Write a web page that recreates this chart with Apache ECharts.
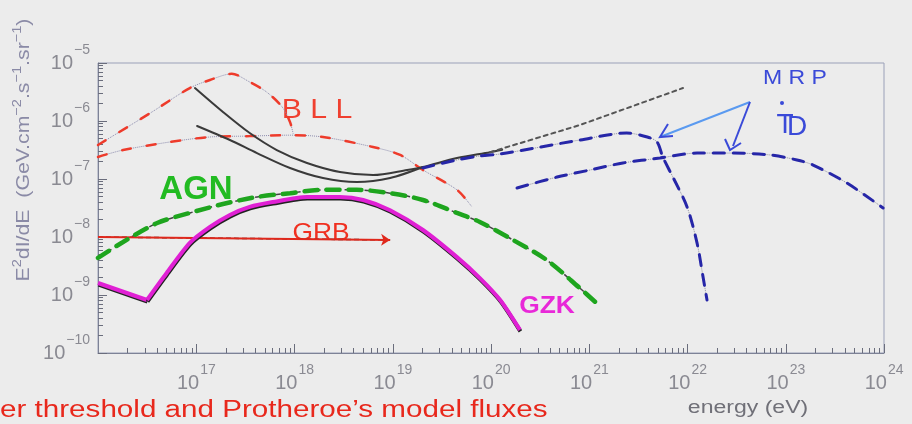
<!DOCTYPE html>
<html><head><meta charset="utf-8">
<script src="https://cdn.jsdelivr.net/npm/echarts@6/dist/echarts.min.js"></script>
<style>html,body{margin:0;padding:0;background:#ececec}#c{width:912px;height:424px}</style>
</head><body><div id="c"></div>
<script>
// ---- axis ranges (decade exponents) ----
const xExponents = [16, 24];
const yExponents = [-10, -5];
// ---- curves: [energy (eV), E^2 dI/dE] ----
const bllUpper = [[1e16,3.86e-7],[3.4e16,1.37e-6],[8.6e16,3.7e-6],[1.38e17,5.1e-6],[2.3e17,6.5e-6],[3.5e17,4.7e-6],[5.2e17,3.16e-6],[7.5e17,1.74e-6],[9e17,9.6e-7],[9.7e17,6e-7]];
const bllLower = [[1e16,2.4e-7],[1.8e16,3.16e-7],[5.4e16,4.35e-7],[1.38e17,5.3e-7],[3.5e17,5.5e-7],[9e17,5.7e-7],[1.95e18,5.3e-7],[6.3e18,3.56e-7],[1.19e19,2.6e-7],[2.03e19,1.43e-7],[4.5e19,6.5e-8],[6.4e19,3.3e-8]];
const blackUpper = [[9.7e16,3.7e-6],[1.87e17,1.43e-6],[3.5e17,6.2e-7],[6.6e17,3.16e-7],[1.34e18,1.89e-7],[2.9e18,1.32e-7],[6.3e18,1.17e-7],[1.4e19,1.43e-7],[2.03e19,1.61e-7],[4.5e19,2.3e-7],[9.8e19,2.9e-7],[1.3e20,3.2e-7]];
const blackLower = [[1.02e17,8.2e-7],[2.2e17,4.7e-7],[4.15e17,2.8e-7],[9e17,1.55e-7],[1.95e18,1.04e-7],[4.3e18,8.9e-8],[9.4e18,1.04e-7],[2.03e19,1.61e-7]];
const blackExtension = [[9.8e19,2.9e-7],[8e20,8.5e-7],[9e21,3.7e-6]];
const mrpTD1 = [[2.03e19,1.55e-7],[4.5e19,2.13e-7],[7.7e19,2.5e-7],[1.24e20,2.7e-7],[3.2e20,3.56e-7],[8e20,4.7e-7],[2.4e21,6.2e-7],[3.9e21,5.3e-7],[4.9e21,4.35e-7],[5.6e21,2.4e-7],[7.1e21,1.08e-7],[9.9e21,3.3e-8],[1.25e22,7.9e-9],[1.44e22,2.04e-9],[1.58e22,8.2e-10]];
const mrpTD2 = [[1.84e20,7e-8],[4.7e20,1.08e-7],[1.02e21,1.43e-7],[2.2e21,1.89e-7],[5.25e21,2.3e-7],[1.25e22,2.8e-7],[2.9e22,2.8e-7],[6.9e22,2.6e-7],[1.3e23,2.13e-7],[1.9e23,1.74e-7],[4.2e23,8.5e-8],[9.8e23,3.16e-8]];
const agn = [[1e16,4.35e-9],[1.8e16,8.2e-9],[4e16,1.74e-8],[8.6e16,2.6e-8],[1.87e17,3.7e-8],[4.15e17,4.9e-8],[9e17,5.7e-8],[1.95e18,6.5e-8],[4.3e18,6.5e-8],[9.4e18,5.7e-8],[2.03e19,4.35e-8],[4.5e19,2.6e-8],[7.7e19,1.82e-8],[1.67e20,8.9e-9],[3.7e20,4e-9],[8e20,1.32e-9],[1.15e21,7.6e-10]];
const grb = [[1e16,1e-8],[9.4e18,8.9e-9]];
const gzkLeft = [[1e16,1.61e-9],[3.15e16,8.2e-10]];
const gzk = [[3.15e16,8.2e-10],[5e16,2.4e-9],[8.6e16,7.9e-9],[1.38e17,1.49e-8],[2.2e17,2.4e-8],[3.5e17,3.3e-8],[6e17,4e-8],[1.34e18,4.9e-8],[2.9e18,4.9e-8],[5e18,4.35e-8],[9.4e18,2.9e-8],[2.03e19,1.32e-8],[4.5e19,4.5e-9],[7.7e19,1.96e-9],[1.24e20,8.2e-10],[1.97e20,2.5e-10]];

const xMinor = [], yMinor = [];
for (let n = xExponents[0]; n < xExponents[1]; n++) for (let k = 2; k <= 9; k++) xMinor.push(n + Math.log10(k));
for (let n = yExponents[0]; n < yExponents[1]; n++) for (let k = 2; k <= 9; k++) yMinor.push(n + Math.log10(k));

const axisColor = '#7d8296';
const tickColor = '#6a6d7c';
const labelRich = {
  h: {fontSize: 1, lineHeight: 40, verticalAlign: 'middle'},
  b: {fontSize: 20, lineHeight: 20, color: '#8a8a92', fontFamily: 'Liberation Sans', verticalAlign: 'middle'},
  s: {fontSize: 14, lineHeight: 14, color: '#8a8a92', fontFamily: 'Liberation Sans', verticalAlign: 'top', padding: [0, 0, 0, 1]}
};
const fmt = v => '{h| }{b|10}{s|' + String(v).replace('-', '\u2212') + '}';

function under(data, color, width, type) {
  return {type: 'line', data, symbol: 'none', smooth: 0.3, silent: true, z: 2,
    lineStyle: {color, width, type}};
}
function over(data, color, width, type, extra) {
  return Object.assign({type: 'line', data, symbol: 'none', smooth: 0.3, silent: true, z: 3,
    lineStyle: {color, width, type, cap: 'round'}}, extra || {});
}
const gzkStyle = {color: '#e020d4', width: 4, shadowColor: '#222', shadowOffsetY: 1.5, shadowOffsetX: 0.5, shadowBlur: 0};

const chart = echarts.init(document.getElementById('c'));
chart.setOption({
  backgroundColor: '#ececec',
  animation: false,
  grid: {left: 98, right: 28, top: 63, bottom: 71, show: true, borderColor: '#9aa0b8', borderWidth: 1, backgroundColor: 'transparent'},
  xAxis: [
    {type: 'log', logBase: 10, min: 1e16, max: 1e24, show: false},
    {type: 'value', min: xExponents[0], max: xExponents[1], interval: 1, position: 'bottom',
      axisLine: {show: true, lineStyle: {color: axisColor, width: 1}},
      axisTick: {show: true, inside: true, length: 9, lineStyle: {color: tickColor}},
      axisLabel: {formatter: fmt, rich: labelRich, margin: 10, showMinLabel: false},
      splitLine: {show: false}},
    {type: 'value', min: xExponents[0], max: xExponents[1], position: 'bottom',
      axisLine: {show: false}, axisLabel: {show: false}, splitLine: {show: false},
      axisTick: {show: true, inside: true, length: 5, customValues: xMinor, lineStyle: {color: tickColor}}}
  ],
  yAxis: [
    {type: 'log', logBase: 10, min: 1e-10, max: 1e-5, show: false},
    {type: 'value', min: yExponents[0], max: yExponents[1], interval: 1, position: 'left',
      axisLine: {show: true, lineStyle: {color: axisColor, width: 1}},
      axisTick: {show: true, inside: true, length: 9, lineStyle: {color: tickColor}},
      axisLabel: {formatter: fmt, rich: labelRich, margin: 8},
      splitLine: {show: false}},
    {type: 'value', min: yExponents[0], max: yExponents[1], position: 'left',
      axisLine: {show: false}, axisLabel: {show: false}, splitLine: {show: false},
      axisTick: {show: true, inside: true, length: 5, customValues: yMinor, lineStyle: {color: tickColor}}}
  ],
  series: [
    under(bllUpper, '#8c8cae', 1, 'dotted'),
    over(bllUpper, '#ee3b2b', 2.5, [9, 16]),
    under(bllLower, '#8c8cae', 1, 'dotted'),
    over(bllLower, '#ee3b2b', 2.5, [9, 16]),
    over(blackUpper, '#3a3a3a', 2, 'solid'),
    over(blackLower, '#3a3a3a', 2, 'solid'),
    over(blackExtension, '#555555', 2, [4, 4], {smooth: false}),
    under(mrpTD1, '#8c8c9e', 1, 'dotted'),
    over(mrpTD1, '#2626a8', 3, [11, 9]),
    under(mrpTD2, '#8c8c9e', 1, 'dotted'),
    over(mrpTD2, '#2626a8', 3, [11, 9]),
    under(agn, '#444444', 1.5, [6, 4]),
    over(agn, '#1ea51e', 4.5, [13, 9]),
    under(grb, '#333333', 1.5, [5, 3]),
    {type: 'lines', coordinateSystem: 'cartesian2d', xAxisIndex: 0, yAxisIndex: 0, silent: true, z: 3,
      symbol: ['none', 'arrow'], symbolSize: 9,
      lineStyle: {color: '#e0281c', width: 2, opacity: 1},
      data: [{coords: grb}]},
    over(gzkLeft, '#e020d4', 4, 'solid', {smooth: false, lineStyle: gzkStyle}),
    over(gzk, '#e020d4', 4, 'solid', {smooth: 0.25, lineStyle: gzkStyle})
  ],
  graphic: [
    {type: 'text', x: 22, y: 150, rotation: Math.PI / 2, scaleX: 1.12, style: {
      text: '{a|E}{s|2}{a|dI/dE  (GeV.cm}{s|\u22122}{a|.s}{s|\u22121}{a|.sr}{s|\u22121}{a|)}',
      align: 'center', verticalAlign: 'middle',
      rich: {a: {fontSize: 19, fill: '#8a8aa6', fontFamily: 'Liberation Sans', verticalAlign: 'bottom'},
             s: {fontSize: 13, fill: '#8a8aa6', fontFamily: 'Liberation Sans', verticalAlign: 'bottom', padding: [0, 0, 9, 0]}}}},
    {type: 'text', x: 748, y: 408, scaleX: 1.28, style: {text: 'energy (eV)', fontSize: 18, fill: '#707078', fontFamily: 'Liberation Sans', align: 'center', verticalAlign: 'middle'}},
    {type: 'text', x: 0, y: 411, scaleX: 1.26, style: {text: "er threshold and Protheroe\u2019s model fluxes", fontSize: 23.5, fill: '#e8281c', fontFamily: 'Liberation Sans', align: 'left', verticalAlign: 'middle'}},
    {type: 'text', x: 317, y: 110, scaleX: 1.08, style: {text: 'B L L', font: '28px "Liberation Sans"', fill: '#f04030', align: 'center', verticalAlign: 'middle'}},
    {type: 'text', x: 196, y: 190, style: {text: 'AGN', font: 'bold 33px "Liberation Sans"', fill: '#22bb22', align: 'center', verticalAlign: 'middle'}},
    {type: 'text', x: 321, y: 233, scaleX: 1.1, style: {text: 'GRB', font: '24px "Liberation Sans"', fill: '#f03020', align: 'center', verticalAlign: 'middle'}},
    {type: 'text', x: 547, y: 306, scaleX: 1.1, style: {text: 'GZK', font: 'bold 24px "Liberation Sans"', fill: '#e828d8', align: 'center', verticalAlign: 'middle'}},
    {type: 'text', x: 795, y: 78, scaleX: 1.15, style: {text: 'M R P', font: '20px "Liberation Sans"', fill: '#3a4ad8', align: 'center', verticalAlign: 'middle'}},
    {type: 'text', x: 785, y: 125, style: {text: 'T', font: '28px "Liberation Sans"', fill: '#3a4ad8', align: 'center', verticalAlign: 'middle'}},
    {type: 'text', x: 797, y: 127, style: {text: 'D', font: '28px "Liberation Sans"', fill: '#3a4ad8', align: 'center', verticalAlign: 'middle'}},
    {type: 'circle', shape: {cx: 782, cy: 103, r: 2}, style: {fill: '#3a4ad8'}},
    {type: 'polyline', shape: {points: [[750, 102], [660, 137]]}, style: {stroke: '#5a9af0', lineWidth: 2, fill: null}},
    {type: 'polyline', shape: {points: [[668, 124], [660, 137], [673, 136]]}, style: {stroke: '#3a4ad8', lineWidth: 2, fill: null}},
    {type: 'polyline', shape: {points: [[750, 102], [733, 146]]}, style: {stroke: '#3a4ad8', lineWidth: 2, fill: null}},
    {type: 'polyline', shape: {points: [[725, 139], [730, 150], [741, 143]]}, style: {stroke: '#3a4ad8', lineWidth: 2, fill: null}}
  ]
});
</script></body></html>
